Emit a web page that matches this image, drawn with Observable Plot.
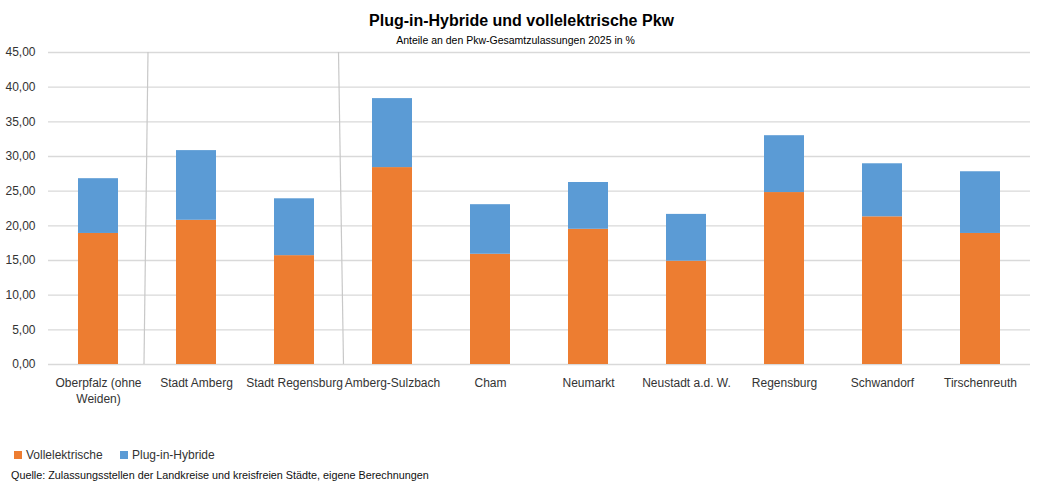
<!DOCTYPE html>
<html>
<head>
<meta charset="utf-8">
<script src="https://cdn.jsdelivr.net/npm/d3@7"></script>
<script src="https://cdn.jsdelivr.net/npm/@observablehq/plot@0.6"></script>
<style>
  body { margin: 0; background: #fff; font-family: "Liberation Sans", Arial, sans-serif; width: 1043px; }
  #title { text-align: center; font-weight: bold; font-size: 16px; color: #000; padding-top: 11px; height: 19px; line-height: 19px; }
  #subtitle { text-align: center; font-size: 10.5px; color: #000; padding-top: 2px; height: 14px; line-height: 16px; margin-left: -12px; }
  #chart { margin-top: -4px; }
  #legend { position: relative; height: 20px; margin-top: 24px; font-size: 12px; color: #333; }
  .item { position: absolute; top: 0; display: flex; align-items: center; }
  .sw { width: 8px; height: 8px; margin-right: 4px; }
  #caption { font-size: 10.8px; color: #111; margin-left: 11px; margin-top: 1px; }
</style>
</head>
<body>
<div id="title">Plug-in-Hybride und vollelektrische Pkw</div>
<div id="subtitle">Anteile an den Pkw-Gesamtzulassungen 2025 in %</div>
<div id="chart"></div>
<div id="legend"></div>
<div id="caption">Quelle: Zulassungsstellen der Landkreise und kreisfreien Städte, eigene Berechnungen</div>
<script>
const categories = ["Oberpfalz (ohne Weiden)", "Stadt Amberg", "Stadt Regensburg", "Amberg-Sulzbach", "Cham", "Neumarkt", "Neustadt a.d. W.", "Regensburg", "Schwandorf", "Tirschenreuth"];
const tickLabels = ["Oberpfalz (ohne\nWeiden)", "Stadt Amberg", "Stadt Regensburg", "Amberg-Sulzbach", "Cham", "Neumarkt", "Neustadt a.d. W.", "Regensburg", "Schwandorf", "Tirschenreuth"];
const vollelektrisch = [18.9, 20.8, 15.7, 28.4, 15.9, 19.5, 14.9, 24.8, 21.3, 18.9];
const plugInHybrid = [7.9, 10.05, 8.2, 9.95, 7.15, 6.75, 6.75, 8.2, 7.65, 8.9];
const seriesNames = ["Vollelektrische", "Plug-in-Hybride"];
const seriesColors = ["#ED7D31", "#5B9BD5"];
const yTicks = [0, 5, 10, 15, 20, 25, 30, 35, 40, 45];
const separatorsAfter = ["Oberpfalz (ohne Weiden)", "Stadt Regensburg"];

const rows = [];
categories.forEach((c, i) => {
  rows.push({cat: c, series: seriesNames[0], value: vollelektrisch[i]});
  rows.push({cat: c, series: seriesNames[1], value: plugInHybrid[i]});
});
const labelOf = new Map(categories.map((c, i) => [c, tickLabels[i]]));

const slants = [[1, -3], [-4.5, 0.5]]; // visual slant of the separator strokes (px at top, bottom)

function separators(index, scales, values, dimensions) {
  const x = scales.x, y = scales.y;
  const bw = x.bandwidth ? x.bandwidth() : 0;
  const g = d3.create("svg:g");
  separatorsAfter.forEach((a, k) => {
    const i = categories.indexOf(a);
    const b = categories[i + 1];
    const bx = (x(a) + bw + x(b)) / 2;
    g.append("line")
      .attr("x1", bx + slants[k][0]).attr("x2", bx + slants[k][1])
      .attr("y1", y(45)).attr("y2", y(0))
      .attr("stroke", "#C8C8C8").attr("stroke-width", 1.2);
  });
  return g.node();
}

const chart = Plot.plot({
  width: 1043,
  height: 382,
  marginTop: 10,
  marginLeft: 48,
  marginRight: 13,
  marginBottom: 60,
  style: {fontFamily: "Liberation Sans, Arial, sans-serif", fontSize: "12px", color: "#333", background: "#fff"},
  x: {domain: categories, paddingInner: 0.59, paddingOuter: 0.295, label: null},
  y: {domain: [0, 45], label: null},
  color: {domain: seriesNames, range: seriesColors},
  marks: [
    Plot.ruleY(yTicks, {stroke: "#D9D9D9", strokeWidth: 1.3}),
    Plot.axisY({ticks: yTicks, tickSize: 0, tickPadding: 13, tickFormat: d => d.toFixed(2).replace(".", ","), fontSize: 12, fill: "#333"}),
    Plot.axisX({tickSize: 0, tickPadding: 11, tickFormat: d => labelOf.get(d), fontSize: 12, fill: "#333", lineHeight: 1.35}),
    Plot.barY(rows, {x: "cat", y: "value", fill: "series", order: seriesNames}),
    separators
  ]
});
document.getElementById("chart").appendChild(chart);

const legend = document.getElementById("legend");
const lx = [14, 120];
seriesNames.forEach((s, i) => {
  const it = document.createElement("div");
  it.className = "item";
  it.style.left = lx[i] + "px";
  it.innerHTML = `<div class="sw" style="background:${seriesColors[i]}"></div><span>${s}</span>`;
  legend.appendChild(it);
});
</script>
</body>
</html>
